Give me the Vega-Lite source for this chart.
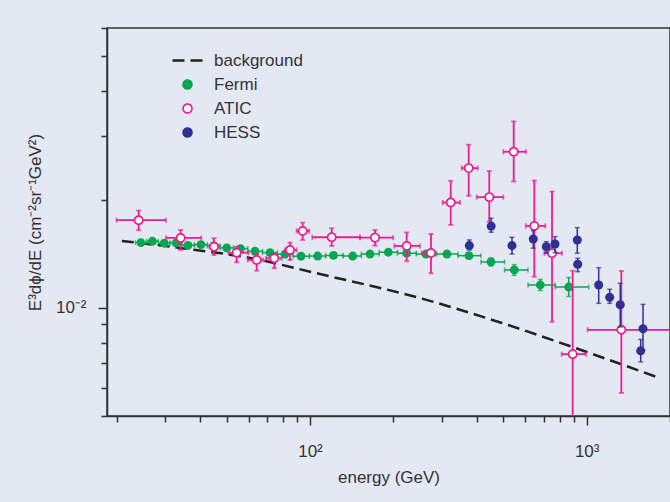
{
  "$schema": "https://vega.github.io/schema/vega-lite/v6.json",
  "width": 563,
  "height": 388,
  "autosize": {"type": "none"},
  "padding": {"left": 107, "top": 28, "right": 0, "bottom": 86},
  "background": "#e4e8f3",
  "config": {
    "view": {"stroke": "#333", "strokeWidth": 1.5},
    "font": "Liberation Sans",
    "axis": {
      "domainColor": "#333", "domainWidth": 1.5, "tickColor": "#333", "tickWidth": 1.5,
      "labelFontSize": 17, "labelColor": "#333", "titleFontSize": 17, "titleColor": "#333",
      "titleFontWeight": "normal", "grid": false, "labelFont": "Liberation Sans", "titleFont": "Liberation Sans"
    }
  },
  "data": {
    "values": [
      {"series": "background", "E": 20.9, "F": 0.01534},
      {"series": "background", "E": 33.9, "F": 0.01467},
      {"series": "background", "E": 60.7, "F": 0.01376},
      {"series": "background", "E": 108.7, "F": 0.01241},
      {"series": "background", "E": 249.7, "F": 0.01064},
      {"series": "background", "E": 494, "F": 0.00907},
      {"series": "background", "E": 892, "F": 0.00777},
      {"series": "background", "E": 1840, "F": 0.00637},

      {"series": "Fermi", "E": 24.5, "Elo": 23.41, "Ehi": 25.72, "F": 0.01518, "Flo": 0.01494, "Fhi": 0.01543},
      {"series": "Fermi", "E": 26.96, "Elo": 25.72, "Ehi": 28.32, "F": 0.01531, "Flo": 0.01507, "Fhi": 0.01556},
      {"series": "Fermi", "E": 29.74, "Elo": 28.32, "Ehi": 31.27, "F": 0.01512, "Flo": 0.01488, "Fhi": 0.01537},
      {"series": "Fermi", "E": 32.84, "Elo": 31.27, "Ehi": 34.49, "F": 0.01515, "Flo": 0.01491, "Fhi": 0.0154},
      {"series": "Fermi", "E": 36.24, "Elo": 34.49, "Ehi": 38.24, "F": 0.01492, "Flo": 0.01468, "Fhi": 0.01516},
      {"series": "Fermi", "E": 40.37, "Elo": 38.24, "Ehi": 42.58, "F": 0.01498, "Flo": 0.01474, "Fhi": 0.01522},
      {"series": "Fermi", "E": 44.9, "Elo": 42.58, "Ehi": 47.4, "F": 0.01486, "Flo": 0.01462, "Fhi": 0.0151},
      {"series": "Fermi", "E": 50.0, "Elo": 47.4, "Ehi": 52.96, "F": 0.01467, "Flo": 0.01444, "Fhi": 0.01491},
      {"series": "Fermi", "E": 56.1, "Elo": 52.96, "Ehi": 59.6, "F": 0.01461, "Flo": 0.01438, "Fhi": 0.01485},
      {"series": "Fermi", "E": 63.3, "Elo": 59.6, "Ehi": 67.35, "F": 0.01436, "Flo": 0.01413, "Fhi": 0.01459},
      {"series": "Fermi", "E": 71.7, "Elo": 67.35, "Ehi": 76.3, "F": 0.01423, "Flo": 0.014, "Fhi": 0.01446},
      {"series": "Fermi", "E": 81.2, "Elo": 76.3, "Ehi": 86.8, "F": 0.01409, "Flo": 0.01387, "Fhi": 0.01432},
      {"series": "Fermi", "E": 92.8, "Elo": 86.8, "Ehi": 99.5, "F": 0.01391, "Flo": 0.01369, "Fhi": 0.01414},
      {"series": "Fermi", "E": 106.6, "Elo": 99.5, "Ehi": 113.9, "F": 0.01393, "Flo": 0.01371, "Fhi": 0.01416},
      {"series": "Fermi", "E": 121.6, "Elo": 113.9, "Ehi": 131.7, "F": 0.01398, "Flo": 0.01376, "Fhi": 0.01421},
      {"series": "Fermi", "E": 142.7, "Elo": 131.7, "Ehi": 153.4, "F": 0.01393, "Flo": 0.01371, "Fhi": 0.01416},
      {"series": "Fermi", "E": 164.8, "Elo": 153.4, "Ehi": 177.9, "F": 0.01411, "Flo": 0.01388, "Fhi": 0.01434},
      {"series": "Fermi", "E": 191.9, "Elo": 177.9, "Ehi": 207.2, "F": 0.01427, "Flo": 0.01404, "Fhi": 0.0145},
      {"series": "Fermi", "E": 223.6, "Elo": 207.2, "Ehi": 242.4, "F": 0.01418, "Flo": 0.01395, "Fhi": 0.01441},
      {"series": "Fermi", "E": 262.6, "Elo": 242.4, "Ehi": 286.6, "F": 0.01411, "Flo": 0.01388, "Fhi": 0.01434},
      {"series": "Fermi", "E": 312.6, "Elo": 286.6, "Ehi": 342.7, "F": 0.01411, "Flo": 0.01384, "Fhi": 0.01438},
      {"series": "Fermi", "E": 375.5, "Elo": 342.7, "Ehi": 415, "F": 0.01396, "Flo": 0.01369, "Fhi": 0.01423},
      {"series": "Fermi", "E": 451, "Elo": 415, "Ehi": 505, "F": 0.01341, "Flo": 0.01307, "Fhi": 0.01376},
      {"series": "Fermi", "E": 547.4, "Elo": 505, "Ehi": 613.6, "F": 0.01274, "Flo": 0.01231, "Fhi": 0.01318},
      {"series": "Fermi", "E": 679.7, "Elo": 613.6, "Ehi": 770, "F": 0.01157, "Flo": 0.01117, "Fhi": 0.01199},
      {"series": "Fermi", "E": 861, "Elo": 770, "Ehi": 1016.7, "F": 0.01142, "Flo": 0.01075, "Fhi": 0.01214},

      {"series": "ATIC", "E": 24.04, "Elo": 20.01, "Ehi": 30.17, "F": 0.01752, "Flo": 0.01643, "Fhi": 0.01864},
      {"series": "ATIC", "E": 34.09, "Elo": 30.17, "Ehi": 40.47, "F": 0.01564, "Flo": 0.01448, "Fhi": 0.01646},
      {"series": "ATIC", "E": 44.99, "Elo": 43.3, "Ehi": 46.8, "F": 0.01479, "Flo": 0.01402, "Fhi": 0.01561},
      {"series": "ATIC", "E": 54.34, "Elo": 50.66, "Ehi": 59.84, "F": 0.01423, "Flo": 0.01338, "Fhi": 0.01479},
      {"series": "ATIC", "E": 64.19, "Elo": 59.54, "Ehi": 67.8, "F": 0.01358, "Flo": 0.01268, "Fhi": 0.01409},
      {"series": "ATIC", "E": 74.3, "Elo": 69.34, "Ehi": 79.0, "F": 0.01373, "Flo": 0.01288, "Fhi": 0.01409},
      {"series": "ATIC", "E": 84.7, "Elo": 81.2, "Ehi": 89.5, "F": 0.01448, "Flo": 0.01358, "Fhi": 0.01518},
      {"series": "ATIC", "E": 94.1, "Elo": 89.5, "Ehi": 99.4, "F": 0.01636, "Flo": 0.01544, "Fhi": 0.01725},
      {"series": "ATIC", "E": 119.8, "Elo": 101.9, "Ehi": 151.6, "F": 0.01571, "Flo": 0.01486, "Fhi": 0.01664},
      {"series": "ATIC", "E": 171.8, "Elo": 151.6, "Ehi": 200.0, "F": 0.01567, "Flo": 0.01489, "Fhi": 0.01646},
      {"series": "ATIC", "E": 223.6, "Elo": 201.7, "Ehi": 249.7, "F": 0.01486, "Flo": 0.01347, "Fhi": 0.0162},
      {"series": "ATIC", "E": 273.7, "Elo": 253.3, "Ehi": 283.0, "F": 0.0142, "Flo": 0.01247, "Fhi": 0.01605},
      {"series": "ATIC", "E": 322.5, "Elo": 301.7, "Ehi": 348.4, "F": 0.01962, "Flo": 0.017, "Fhi": 0.02255},
      {"series": "ATIC", "E": 374.6, "Elo": 353.4, "Ehi": 403.8, "F": 0.02446, "Flo": 0.02048, "Fhi": 0.02841},
      {"series": "ATIC", "E": 444.6, "Elo": 400.5, "Ehi": 499.4, "F": 0.02031, "Flo": 0.01736, "Fhi": 0.024},
      {"series": "ATIC", "E": 544.8, "Elo": 499.4, "Ehi": 603.4, "F": 0.02716, "Flo": 0.02245, "Fhi": 0.03299},
      {"series": "ATIC", "E": 646.6, "Elo": 601.9, "Ehi": 708.8, "F": 0.01689, "Flo": 0.0122, "Fhi": 0.02259},
      {"series": "ATIC", "E": 749.3, "Elo": 702.9, "Ehi": 814.0, "F": 0.01418, "Flo": 0.009141, "Fhi": 0.02105},
      {"series": "ATIC", "E": 890.0, "Elo": 812.1, "Ehi": 994, "F": 0.00743, "Flo": 0.004, "Fhi": 0.01268},
      {"series": "ATIC", "E": 1334, "Elo": 1008, "Ehi": 2500, "F": 0.008685, "Flo": 0.005797, "Fhi": 0.01266},

      {"series": "HESS", "E": 376.5, "F": 0.01489, "Flo": 0.01448, "Fhi": 0.01544},
      {"series": "HESS", "E": 451.7, "F": 0.01687, "Flo": 0.01622, "Fhi": 0.01775},
      {"series": "HESS", "E": 537.0, "F": 0.01489, "Flo": 0.01411, "Fhi": 0.01571},
      {"series": "HESS", "E": 641.2, "F": 0.01554, "Flo": 0.01464, "Fhi": 0.01639},
      {"series": "HESS", "E": 714.5, "F": 0.01479, "Flo": 0.01423, "Fhi": 0.01527},
      {"series": "HESS", "E": 768.1, "F": 0.01505, "Flo": 0.01423, "Fhi": 0.01577},
      {"series": "HESS", "E": 924.7, "F": 0.01544, "Flo": 0.01418, "Fhi": 0.01671},
      {"series": "HESS", "E": 927.9, "F": 0.01321, "Flo": 0.0126, "Fhi": 0.01373},
      {"series": "HESS", "E": 1105, "F": 0.01157, "Flo": 0.01029, "Fhi": 0.01293},
      {"series": "HESS", "E": 1211, "F": 0.01069, "Flo": 0.01029, "Fhi": 0.01126},
      {"series": "HESS", "E": 1322, "F": 0.0102, "Flo": 0.008836, "Fhi": 0.0117},
      {"series": "HESS", "E": 1598, "F": 0.00874, "Flo": 0.007622, "Fhi": 0.01022},
      {"series": "HESS", "E": 1567, "F": 0.007588, "Flo": 0.00707, "Fhi": 0.008166}
    ]
  },
  "layer": [
    {
      "transform": [{"filter": "datum.series === 'background'"}],
      "mark": {"type": "line", "strokeDash": [12, 6], "strokeWidth": 2.5, "interpolate": "monotone"},
      "encoding": {
        "x": {"field": "E", "type": "quantitative", "title": "energy (GeV)",
          "scale": {"type": "log", "domain": [18.47, 2000], "nice": false},
          "axis": {
            "values": [20, 30, 40, 50, 60, 70, 80, 90, 100, 200, 300, 400, 500, 600, 700, 800, 900, 1000, 2000],
            "labelExpr": "datum.value == 100 ? '10²' : datum.value == 1000 ? '10³' : ''",
            "tickSize": {"condition": {"test": "datum.value == 100 || datum.value == 1000", "value": 9}, "value": 6},
            "labelPadding": 18, "titlePadding": 10, "labelOverlap": false, "labelFlush": false
          }
        },
        "y": {"field": "F", "type": "quantitative", "title": "E³dϕ/dE (cm⁻²sr⁻¹GeV²)",
          "scale": {"type": "log", "domain": [0.005, 0.06], "nice": false},
          "axis": {
            "values": [0.005, 0.006, 0.007, 0.008, 0.009, 0.01, 0.02, 0.03, 0.04, 0.05, 0.06],
            "labelExpr": "datum.value == 0.01 ? '10⁻²' : ''",
            "tickSize": {"condition": {"test": "datum.value == 0.01", "value": 9}, "value": 6},
            "labelPadding": 12, "titlePadding": 11, "labelOverlap": false, "labelFlush": false
          }
        },
        "color": {"field": "series", "type": "nominal",
          "scale": {"domain": ["background", "Fermi", "ATIC", "HESS"], "range": ["#222222", "#0aa550", "#ec1c8c", "#2e3192"]},
          "legend": {
            "title": null, "orient": "none", "legendX": 72, "legendY": 24,
            "labelFontSize": 17, "labelColor": "#333", "labelFont": "Liberation Sans", "labelOffset": 18,
            "rowPadding": 6, "symbolSize": 80,
            "encode": {
              "symbols": {
                "update": {
                  "shape": {"signal": "datum.value === 'background' ? 'stroke' : 'circle'"},
                  "fill": {"signal": "datum.value === 'Fermi' ? '#0aa550' : datum.value === 'HESS' ? '#2e3192' : datum.value === 'ATIC' ? '#ffffff' : 'transparent'"},
                  "stroke": {"signal": "datum.value === 'background' ? '#222222' : datum.value === 'ATIC' ? '#ec1c8c' : 'transparent'"},
                  "strokeDash": {"signal": "datum.value === 'background' ? [12, 6] : [1, 0]"},
                  "strokeWidth": {"signal": "datum.value === 'background' ? 2.5 : 1.6"},
                  "size": {"signal": "datum.value === 'background' ? 900 : 80"}
                }
              }
            }
          }
        }
      }
    },
    {
      "transform": [{"filter": "datum.series === 'Fermi'"}],
      "mark": {"type": "errorbar", "ticks": true, "color": "#0aa550", "thickness": 1.5},
      "encoding": {
        "x": {"field": "Elo", "type": "quantitative", "title": "energy (GeV)"},
        "x2": {"field": "Ehi"},
        "y": {"field": "F", "type": "quantitative", "title": "E³dϕ/dE (cm⁻²sr⁻¹GeV²)"}
      }
    },
    {
      "transform": [{"filter": "datum.series === 'Fermi'"}],
      "mark": {"type": "errorbar", "ticks": true, "color": "#0aa550", "thickness": 1.5},
      "encoding": {
        "x": {"field": "E", "type": "quantitative", "title": "energy (GeV)"},
        "y": {"field": "Flo", "type": "quantitative", "title": "E³dϕ/dE (cm⁻²sr⁻¹GeV²)"},
        "y2": {"field": "Fhi"}
      }
    },
    {
      "transform": [{"filter": "datum.series === 'Fermi'"}],
      "mark": {"type": "point", "filled": true, "size": 78, "opacity": 1, "color": "#0aa550"},
      "encoding": {
        "x": {"field": "E", "type": "quantitative", "title": "energy (GeV)"},
        "y": {"field": "F", "type": "quantitative", "title": "E³dϕ/dE (cm⁻²sr⁻¹GeV²)"}
      }
    },
    {
      "transform": [{"filter": "datum.series === 'ATIC'"}],
      "mark": {"type": "errorbar", "ticks": true, "color": "#ec1c8c", "thickness": 1.8, "clip": true},
      "encoding": {
        "x": {"field": "Elo", "type": "quantitative", "title": "energy (GeV)"},
        "x2": {"field": "Ehi"},
        "y": {"field": "F", "type": "quantitative", "title": "E³dϕ/dE (cm⁻²sr⁻¹GeV²)"}
      }
    },
    {
      "transform": [{"filter": "datum.series === 'ATIC'"}],
      "mark": {"type": "errorbar", "ticks": true, "color": "#ec1c8c", "thickness": 1.8, "clip": true},
      "encoding": {
        "x": {"field": "E", "type": "quantitative", "title": "energy (GeV)"},
        "y": {"field": "Flo", "type": "quantitative", "title": "E³dϕ/dE (cm⁻²sr⁻¹GeV²)"},
        "y2": {"field": "Fhi"}
      }
    },
    {
      "transform": [{"filter": "datum.series === 'ATIC'"}],
      "mark": {"type": "point", "filled": false, "fill": "#ffffff", "stroke": "#ec1c8c", "size": 68, "strokeWidth": 1.7, "opacity": 1},
      "encoding": {
        "x": {"field": "E", "type": "quantitative", "title": "energy (GeV)"},
        "y": {"field": "F", "type": "quantitative", "title": "E³dϕ/dE (cm⁻²sr⁻¹GeV²)"}
      }
    },
    {
      "transform": [{"filter": "datum.series === 'HESS'"}],
      "mark": {"type": "errorbar", "ticks": true, "color": "#2e3192", "thickness": 1.5},
      "encoding": {
        "x": {"field": "E", "type": "quantitative", "title": "energy (GeV)"},
        "y": {"field": "Flo", "type": "quantitative", "title": "E³dϕ/dE (cm⁻²sr⁻¹GeV²)"},
        "y2": {"field": "Fhi"}
      }
    },
    {
      "transform": [{"filter": "datum.series === 'HESS'"}],
      "mark": {"type": "point", "filled": true, "size": 82, "opacity": 1, "color": "#2e3192"},
      "encoding": {
        "x": {"field": "E", "type": "quantitative", "title": "energy (GeV)"},
        "y": {"field": "F", "type": "quantitative", "title": "E³dϕ/dE (cm⁻²sr⁻¹GeV²)"}
      }
    }
  ]
}
